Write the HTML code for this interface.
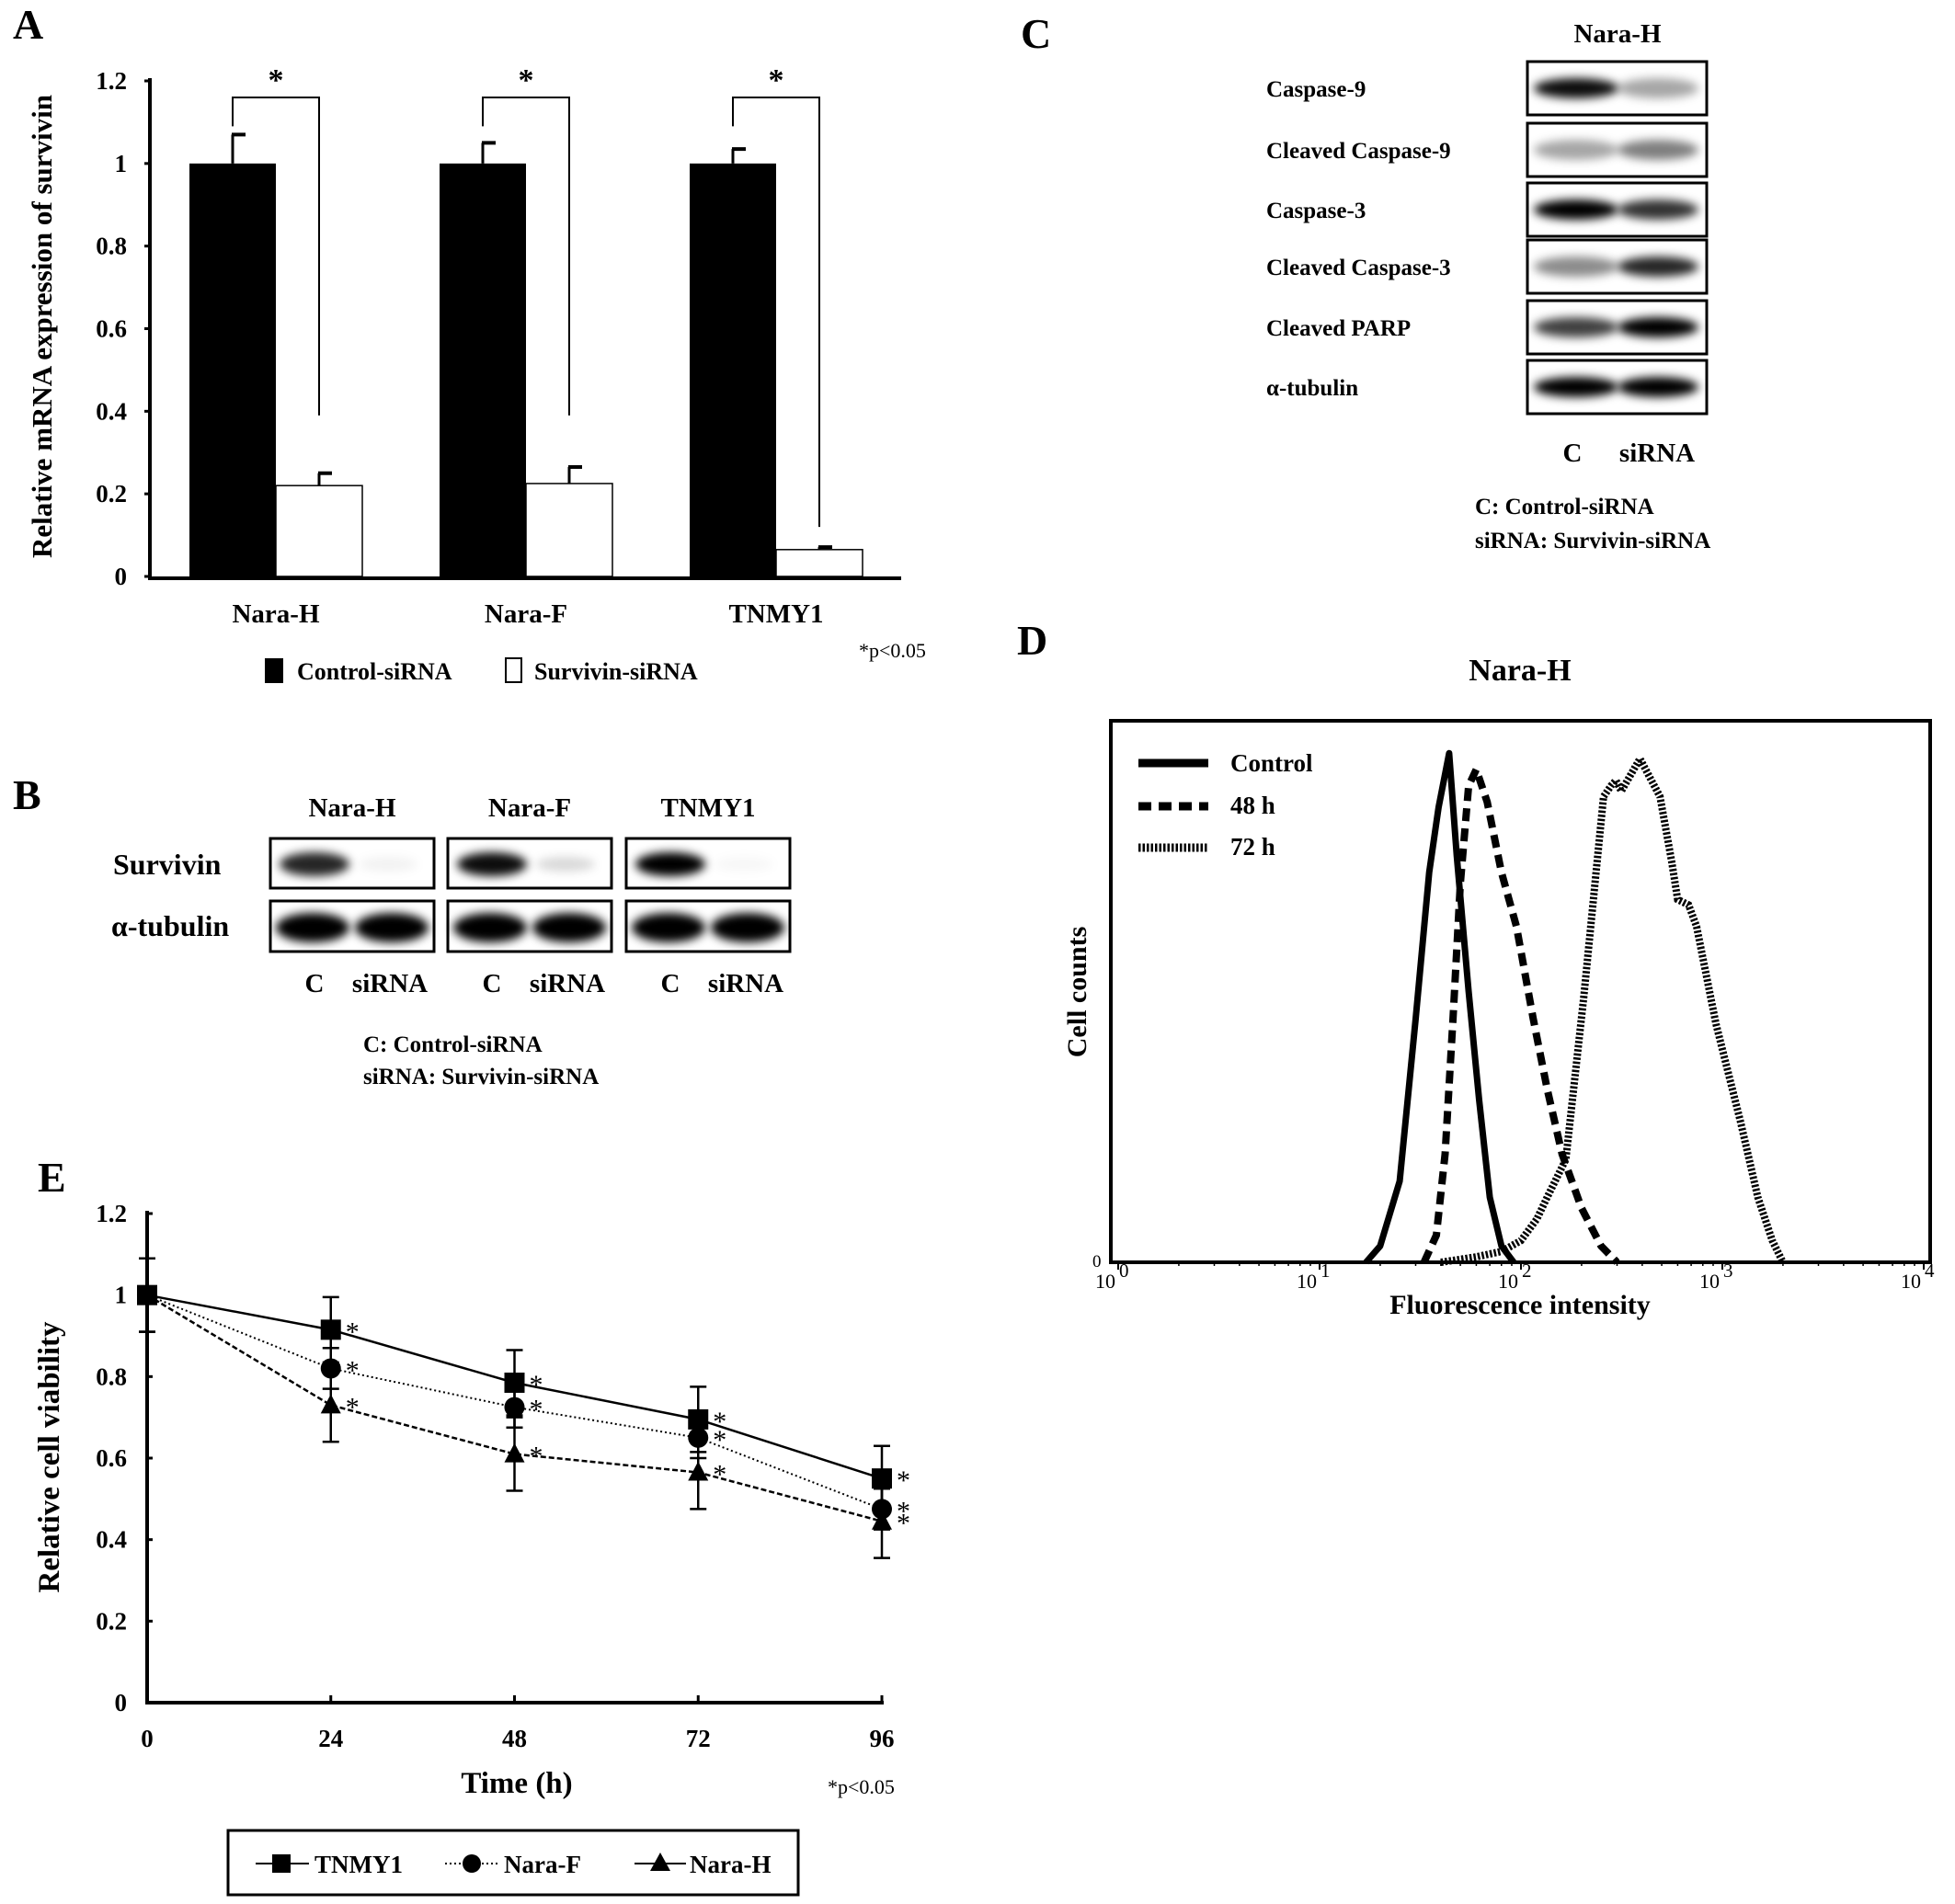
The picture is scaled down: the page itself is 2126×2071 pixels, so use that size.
<!DOCTYPE html>
<html><head><meta charset="utf-8"><style>
html,body{margin:0;padding:0;background:#fff}
svg{display:block}
text{font-family:"Liberation Serif",serif;font-weight:bold;fill:#000}
</style></head><body>
<svg id="fig" width="2126" height="2071" viewBox="0 0 2126 2071" xmlns="http://www.w3.org/2000/svg">
<defs>
<filter id="blur" x="-30%" y="-60%" width="160%" height="220%"><feGaussianBlur stdDeviation="5"/></filter>
</defs>
<g id="panelA"></g>
<g id="panelB"></g>
<g id="panelC"></g>
<g id="panelD"></g>
<g id="panelE"></g>
</svg>
<script>
// ---------- Panel A data ----------
const aCategories = ["Nara-H","Nara-F","TNMY1"];
const aControl = [1,1,1];
const aControlErr = [0.07,0.05,0.035];
const aSurvivin = [0.22,0.225,0.065];
const aSurvivinErr = [0.03,0.04,0.006];
const aTicks = ["0","0.2","0.4","0.6","0.8","1","1.2"];
const aTickValues = [0,0.2,0.4,0.6,0.8,1,1.2];
// ---------- Panel E data ----------
const eTimes = [0,24,48,72,96];
const eTNMY1 = [1,0.915,0.785,0.695,0.55];
const eTNMY1Err = [0.09,0.08,0.08,0.08,0.08];
const eNaraF = [1,0.82,0.725,0.65,0.475];
const eNaraFErr = [0.09,0.05,0.05,0.05,0.05];
const eNaraH = [1,0.73,0.61,0.565,0.445];
const eNaraHErr = [0.09,0.09,0.09,0.09,0.09];
const eTicks = ["0","0.2","0.4","0.6","0.8","1","1.2"];
const eTickValues = [0,0.2,0.4,0.6,0.8,1,1.2];
// ---------- Panel D data ----------
const dCtrlX = [17,20,25,30,35,39,44,48,55,62,70,80,92];
const dCtrlY = [0,0.03,0.15,0.45,0.72,0.84,0.94,0.75,0.5,0.3,0.12,0.03,0];
const d48X = [33,38,42,46,50,55,60,68,80,95,115,135,160,200,250,300];
const d48Y = [0,0.05,0.2,0.45,0.7,0.88,0.91,0.85,0.72,0.62,0.45,0.32,0.2,0.1,0.03,0];
const d72X = [40,60,80,100,120,135,167,205,257,280,296,315,350,390,430,490,560,600,680,745,930,1230,1500,1770,2000];
const d72Y = [0,0.01,0.02,0.04,0.08,0.12,0.19,0.49,0.86,0.88,0.89,0.87,0.9,0.93,0.9,0.86,0.74,0.67,0.66,0.62,0.44,0.26,0.12,0.04,0];
const dDecades = [0,1,2,3,4];

const NS="http://www.w3.org/2000/svg";
function mk(parent,tag,attrs,txt){const e=document.createElementNS(NS,tag);for(const k in attrs)e.setAttribute(k,attrs[k]);if(txt!==undefined)e.textContent=txt;parent.appendChild(e);return e;}

// ================= Panel A =================
(function(){
const g=document.getElementById('panelA');
const x0=163,xEnd=980,y0=627,yTop=88;
const ya=v=>y0-(v/1.2)*(y0-yTop);
const groupLeft=[206,478,750], bw=94;
let t=mk(g,'text',{x:14,y:42,'font-size':46});t.textContent='A';


let l=mk(g,'line',{x1:x0,y1:y0+2,x2:xEnd,y2:y0+2,stroke:'#000','stroke-width':4});


l=mk(g,'line',{x1:x0,y1:yTop-3,x2:x0,y2:y0+4,stroke:'#000','stroke-width':4});


aTickValues.forEach((v,i)=>{
 mk(g,'line',{x1:x0-6,y1:ya(v),x2:x0,y2:ya(v),stroke:'#000','stroke-width':3});
 const tt=mk(g,'text',{x:138,y:ya(v)+9,'font-size':27,'text-anchor':'end'},aTicks[i]);
 
 
});
const yt=mk(g,'text',{x:0,y:0,'font-size':31,'text-anchor':'middle',transform:'translate(56,355) rotate(-90)'},'Relative mRNA expression of survivin');


aCategories.forEach((c,i)=>{
 const xl=groupLeft[i];
 const yc=ya(aControl[i]), ys=ya(aSurvivin[i]);
 const ec=ya(aControl[i]+aControlErr[i]);
 mk(g,'line',{x1:xl+bw/2,y1:yc,x2:xl+bw/2,y2:ec,stroke:'#000','stroke-width':3});
 mk(g,'line',{x1:xl+bw/2-1,y1:ec,x2:xl+bw/2+14,y2:ec,stroke:'#000','stroke-width':4});
 const es=ya(aSurvivin[i]+aSurvivinErr[i]);
 mk(g,'line',{x1:xl+bw+bw/2,y1:ys,x2:xl+bw+bw/2,y2:es,stroke:'#000','stroke-width':3});
 mk(g,'line',{x1:xl+bw+bw/2-1,y1:es,x2:xl+bw+bw/2+14,y2:es,stroke:'#000','stroke-width':4});
 const b1=mk(g,'rect',{x:xl,y:yc,width:bw,height:y0-yc,fill:'#000'});
 
 
 const b2=mk(g,'rect',{x:xl+bw,y:ys,width:bw,height:y0-ys,fill:'#fff',stroke:'#000','stroke-width':1.5});
 
 
 const by=ya(1.16);
 const right=(i===2)?ya(0.12):ya(0.39);
 mk(g,'polyline',{points:`${xl+bw/2},${ya(1.09)} ${xl+bw/2},${by} ${xl+bw+bw/2},${by} ${xl+bw+bw/2},${right}`,fill:'none',stroke:'#000','stroke-width':2});
 const st=mk(g,'text',{x:xl+bw,y:by-8,'font-size':34,'text-anchor':'middle'},'*');
 
 
 const cl=mk(g,'text',{x:xl+bw,y:677,'font-size':29,'text-anchor':'middle'},c);
 
 
});
let p=mk(g,'text',{x:934,y:715,'font-size':22,'style':'font-weight:normal'},'*p<0.05');


const lg=mk(g,'g',{});


mk(lg,'rect',{x:288,y:716,width:20,height:27,fill:'#000'});
mk(lg,'text',{x:323,y:739,'font-size':26},'Control-siRNA');
mk(lg,'rect',{x:550,y:716,width:17,height:26,fill:'#fff',stroke:'#000','stroke-width':2});
mk(lg,'text',{x:581,y:739,'font-size':26},'Survivin-siRNA');
})();

// ================= Panel B =================
(function(){
const g=document.getElementById('panelB');
let t=mk(g,'text',{x:14,y:880,'font-size':46},'B');


const boxes=[[294,'Nara-H'],[487,'Nara-F'],[681,'TNMY1']];
const survC=[0.85,0.95,1],survS=[0.05,0.15,0.03];
boxes.forEach((b,i)=>{
 const x=b[0],w=178;
 const h=mk(g,'text',{x:x+w/2,y:888,'font-size':29,'text-anchor':'middle'},b[1]);
 
 
 mk(g,'rect',{x:x,y:912,width:w,height:54,fill:'#fff',stroke:'#000','stroke-width':3});
 mk(g,'ellipse',{cx:x+48,cy:940,rx:38,ry:13,fill:'#000','fill-opacity':survC[i],filter:'url(#blur)'});
 mk(g,'ellipse',{cx:x+128,cy:940,rx:32,ry:8,fill:'#000','fill-opacity':survS[i],filter:'url(#blur)'});
 mk(g,'rect',{x:x,y:980,width:w,height:55,fill:'#fff',stroke:'#000','stroke-width':3});
 mk(g,'ellipse',{cx:x+46,cy:1009,rx:40,ry:16,fill:'#000',filter:'url(#blur)'});
 mk(g,'ellipse',{cx:x+132,cy:1009,rx:40,ry:16,fill:'#000',filter:'url(#blur)'});
 mk(g,'text',{x:x+48,y:1079,'font-size':29,'text-anchor':'middle'},'C');
 mk(g,'text',{x:x+130,y:1079,'font-size':29,'text-anchor':'middle'},'siRNA');
});
mk(g,'text',{x:123,y:951,'font-size':32},'Survivin');
mk(g,'text',{x:121,y:1018,'font-size':32},'α-tubulin');
mk(g,'text',{x:395,y:1144,'font-size':25},'C: Control-siRNA');
mk(g,'text',{x:395,y:1179,'font-size':25},'siRNA: Survivin-siRNA');
})();

// ================= Panel C =================
(function(){
const g=document.getElementById('panelC');
let t=mk(g,'text',{x:1110,y:52,'font-size':46},'C');


mk(g,'text',{x:1759,y:46,'font-size':29,'text-anchor':'middle'},'Nara-H');
const rows=['Caspase-9','Cleaved Caspase-9','Caspase-3','Cleaved Caspase-3','Cleaved PARP','α-tubulin'];
const cy=[96,163,228,290,356,421];
const bandC=[0.95,0.35,1,0.45,0.75,1],bandS=[0.35,0.5,0.8,0.85,1,1];
rows.forEach((r,i)=>{
 const lt=mk(g,'text',{x:1377,y:cy[i]+9,'font-size':25},r);
 
 
 mk(g,'rect',{x:1661,y:cy[i]-29,width:195,height:58,fill:'#fff',stroke:'#000','stroke-width':3});
 mk(g,'ellipse',{cx:1714,cy:cy[i],rx:46,ry:11,fill:'#000','fill-opacity':bandC[i],filter:'url(#blur)'});
 mk(g,'ellipse',{cx:1803,cy:cy[i],rx:44,ry:11,fill:'#000','fill-opacity':bandS[i],filter:'url(#blur)'});
});
mk(g,'text',{x:1710,y:502,'font-size':29,'text-anchor':'middle'},'C');
mk(g,'text',{x:1802,y:502,'font-size':29,'text-anchor':'middle'},'siRNA');
mk(g,'text',{x:1604,y:559,'font-size':25},'C: Control-siRNA');
mk(g,'text',{x:1604,y:596,'font-size':25},'siRNA: Survivin-siRNA');
})();

// ================= Panel D =================
(function(){
const g=document.getElementById('panelD');
const L=1208,R=2099,T=784,B=1373;
const xd=v=>1216+219*Math.log10(v);
const yd=c=>B-c*(B-T);
let t=mk(g,'text',{x:1106,y:712,'font-size':46},'D');


t=mk(g,'text',{x:1653,y:740,'font-size':34,'text-anchor':'middle'},'Nara-H');


const fr=mk(g,'rect',{x:L,y:T,width:R-L,height:B-T,fill:'none',stroke:'#000','stroke-width':4});


dDecades.forEach(d=>{
 const x=xd(Math.pow(10,d));
 mk(g,'line',{x1:x,y1:B,x2:x,y2:B+8,stroke:'#000','stroke-width':2});
 for(let k=2;k<10&&d<4;k++){const xm=xd(k*Math.pow(10,d));mk(g,'line',{x1:xm,y1:B,x2:xm,y2:B+4,stroke:'#000','stroke-width':1.5});}
 const lab=mk(g,'text',{x:x-14,y:B+28,'font-size':22,'style':'font-weight:normal','text-anchor':'middle'},'10');
 
 
 mk(g,'text',{x:x+1,y:B+16,'font-size':21,'style':'font-weight:normal'},String(d));
});
mk(g,'text',{x:1188,y:1378,'font-size':19,'style':'font-weight:normal'},'0');
t=mk(g,'text',{x:1653,y:1429,'font-size':30,'text-anchor':'middle'},'Fluorescence intensity');


t=mk(g,'text',{x:0,y:0,'font-size':30,'text-anchor':'middle',transform:'translate(1181,1079) rotate(-90)'},'Cell counts');


function path(xs,ys){return xs.map((x,i)=>(i?'L':'M')+xd(x).toFixed(1)+','+yd(ys[i]).toFixed(1)).join(' ');}
let p=mk(g,'path',{d:path(dCtrlX,dCtrlY),fill:'none',stroke:'#000','stroke-width':7,'stroke-linejoin':'round'});


p=mk(g,'path',{d:path(d48X,d48Y),fill:'none',stroke:'#000','stroke-width':8,'stroke-dasharray':'14 8'});


p=mk(g,'path',{d:path(d72X,d72Y),fill:'none',stroke:'#000','stroke-width':8,'stroke-dasharray':'2.5 2'});


const lg=mk(g,'g',{});


mk(lg,'line',{x1:1238,y1:830,x2:1314,y2:830,stroke:'#000','stroke-width':9});
mk(lg,'line',{x1:1238,y1:877,x2:1314,y2:877,stroke:'#000','stroke-width':9,'stroke-dasharray':'14 8'});
mk(lg,'line',{x1:1238,y1:922,x2:1314,y2:922,stroke:'#000','stroke-width':9,'stroke-dasharray':'2.5 2'});
mk(lg,'text',{x:1338,y:839,'font-size':27},'Control');
mk(lg,'text',{x:1338,y:885,'font-size':27},'48 h');
mk(lg,'text',{x:1338,y:930,'font-size':27},'72 h');
})();

// ================= Panel E =================
(function(){
const g=document.getElementById('panelE');
const x0=160,y0=1852,yTop=1320;
const xe=v=>x0+(v/96)*(959-x0);
const ye=v=>y0-(v/1.2)*(y0-yTop);
let t=mk(g,'text',{x:41,y:1296,'font-size':46},'E');


let l=mk(g,'line',{x1:x0,y1:y0,x2:xe(96)+2,y2:y0,stroke:'#000','stroke-width':4});


l=mk(g,'line',{x1:x0,y1:yTop-3,x2:x0,y2:y0+2,stroke:'#000','stroke-width':4});


eTickValues.forEach((v,i)=>{
 mk(g,'line',{x1:x0,y1:ye(v),x2:x0+6,y2:ye(v),stroke:'#000','stroke-width':3});
 const tt=mk(g,'text',{x:138,y:ye(v)+9,'font-size':27,'text-anchor':'end'},eTicks[i]);
 
 
});
eTimes.forEach(v=>{
 mk(g,'line',{x1:xe(v),y1:y0,x2:xe(v),y2:y0-8,stroke:'#000','stroke-width':3});
 const tt=mk(g,'text',{x:xe(v),y:1900,'font-size':27,'text-anchor':'middle'},String(v));
 
 
});
t=mk(g,'text',{x:562,y:1950,'font-size':33,'text-anchor':'middle'},'Time (h)');


t=mk(g,'text',{x:0,y:0,'font-size':33,'text-anchor':'middle',transform:'translate(64,1585) rotate(-90)'},'Relative cell viability');


t=mk(g,'text',{x:900,y:1951,'font-size':22,'style':'font-weight:normal'},'*p<0.05');


const series=[
 {name:'tnmy1',v:eTNMY1,e:eTNMY1Err,dash:'',m:'sq',w:2.5},
 {name:'nara-f',v:eNaraF,e:eNaraFErr,dash:'2 3',m:'ci',w:2},
 {name:'nara-h',v:eNaraH,e:eNaraHErr,dash:'6 3',m:'tr',w:2.5}];
series.forEach(s=>{
 const sg=mk(g,'g',{});
 
 
 eTimes.forEach((tm,i)=>{
  const x=xe(tm);
  mk(sg,'line',{x1:x,y1:ye(s.v[i]+s.e[i]),x2:x,y2:ye(s.v[i]-s.e[i]),stroke:'#000','stroke-width':2.5});
  mk(sg,'line',{x1:x-9,y1:ye(s.v[i]+s.e[i]),x2:x+9,y2:ye(s.v[i]+s.e[i]),stroke:'#000','stroke-width':2.5});
  mk(sg,'line',{x1:x-9,y1:ye(s.v[i]-s.e[i]),x2:x+9,y2:ye(s.v[i]-s.e[i]),stroke:'#000','stroke-width':2.5});
 });
 const pts=eTimes.map((tm,i)=>xe(tm)+','+ye(s.v[i])).join(' ');
 mk(sg,'polyline',{points:pts,fill:'none',stroke:'#000','stroke-width':s.w,'stroke-dasharray':s.dash});
 eTimes.forEach((tm,i)=>{
  const x=xe(tm),y=ye(s.v[i]);let mark;
  if(s.m==='sq')mark=mk(sg,'rect',{x:x-11,y:y-11,width:22,height:22,fill:'#000'});
  else if(s.m==='ci')mark=mk(sg,'circle',{cx:x,cy:y,r:11,fill:'#000'});
  else mark=mk(sg,'polygon',{points:`${x},${y-12} ${x-11},${y+9} ${x+11},${y+9}`,fill:'#000'});
  
  
  if(i>0){const st=mk(sg,'text',{x:x+16,y:y+12,'font-size':30,'style':'font-weight:normal'},'*');
   
   }
 });
});
const lg=mk(g,'g',{});


mk(lg,'rect',{x:248,y:1991,width:620,height:70,fill:'#fff',stroke:'#000','stroke-width':3});
mk(lg,'line',{x1:278,y1:2027,x2:336,y2:2027,stroke:'#000','stroke-width':2});
mk(lg,'rect',{x:296,y:2017,width:20,height:20,fill:'#000'});
mk(lg,'text',{x:342,y:2037,'font-size':27},'TNMY1');
mk(lg,'line',{x1:484,y1:2027,x2:542,y2:2027,stroke:'#000','stroke-width':2,'stroke-dasharray':'2 3'});
mk(lg,'circle',{cx:513,cy:2027,r:10,fill:'#000'});
mk(lg,'text',{x:548,y:2037,'font-size':27},'Nara-F');
mk(lg,'line',{x1:690,y1:2027,x2:746,y2:2027,stroke:'#000','stroke-width':2});
mk(lg,'polygon',{points:'718,2015 707,2035 729,2035',fill:'#000'});
mk(lg,'text',{x:750,y:2037,'font-size':27},'Nara-H');
})();
</script>
</body></html>
